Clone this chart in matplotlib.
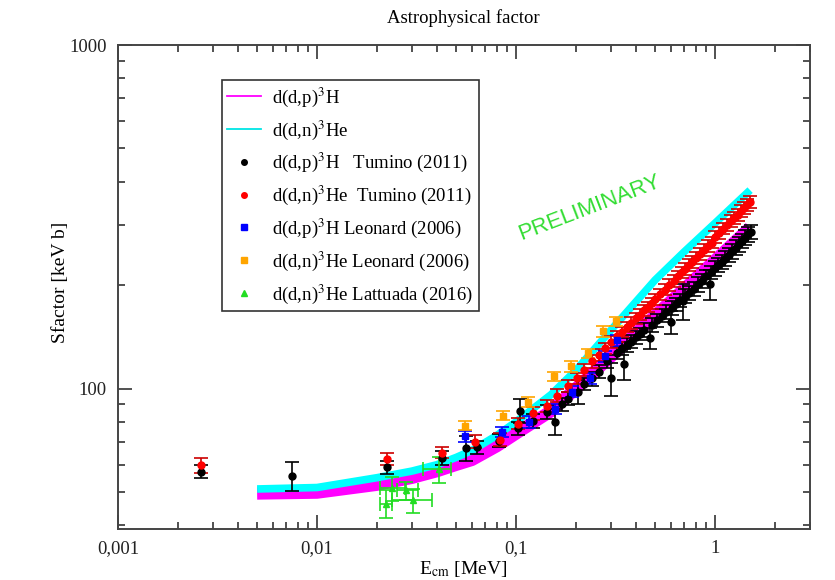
import numpy as np
import matplotlib
matplotlib.use("Agg")
import matplotlib.pyplot as plt
from matplotlib.lines import Line2D
from matplotlib.ticker import FixedLocator, FixedFormatter, LogLocator, NullFormatter

plt.rcParams['font.family'] = ['Liberation Serif', 'DejaVu Serif']
plt.rcParams['mathtext.fontset'] = 'stix'

# theory curves (S factor, keV b)
E_th = [0.005, 0.01, 0.02, 0.03, 0.04, 0.05, 0.06, 0.08, 0.1, 0.15, 0.2, 0.3, 0.5, 0.7, 1.0, 1.5]
S_dp_th = [49.5, 49.8, 52.5, 55.0, 57.5, 60.0, 62.0, 68.0, 74.0, 86.0, 100.0, 124.0, 163.0, 195.0, 236.0, 294.0]
S_dn_th = [51.0, 51.5, 55.0, 57.5, 60.0, 63.0, 66.0, 73.0, 80.0, 96.0, 113.0, 148.0, 207.0, 250.0, 303.0, 378.0]

# d(d,p)3H Tumino (2011)
E_tp = [0.0026, 0.0075, 0.0225, 0.0425, 0.056, 0.064, 0.082, 0.102, 0.105, 0.121, 0.143, 0.157,
        0.170, 0.182, 0.205, 0.22, 0.24, 0.26, 0.285, 0.30, 0.32, 0.34, 0.35,
        0.36, 0.38, 0.40, 0.42, 0.44, 0.47, 0.48, 0.51, 0.54, 0.57, 0.60, 0.61, 0.64, 0.67, 0.69,
        0.71, 0.74, 0.78, 0.82, 0.86, 0.90, 0.94, 0.95, 1.00, 1.04, 1.08, 1.12, 1.17, 1.22,
        1.27, 1.32, 1.37, 1.42, 1.47, 1.52]
S_tp = [57.3, 55.8, 59.0, 62.9, 67.0, 67.5, 70.5, 76.5, 86.3, 80.5, 85.7, 80.0,
        90.0, 93.5, 98.0, 103.0, 107.0, 112.0, 120.0, 107.0, 127.0, 131.0, 118.0,
        134.0, 137.0, 141.0, 144.0, 148.0, 140.0, 153.0, 158.0, 163.0, 167.0, 156.0, 172.0, 176.0, 181.0, 180.0,
        186.0, 190.0, 195.0, 201.0, 206.0, 212.0, 201.0, 218.0, 224.0, 229.0, 234.0, 239.0, 245.0, 251.0,
        257.0, 263.0, 269.0, 275.0, 281.0, 286.0]
err_tp = [2.5, 5.5, 2.5, 3.0, 5.5, 3.0, 3.0, 3.5, 7.0, 4.0, 4.0, 7.0,
          4.0, 4.0, 8.0, 4.0, 5.0, 5.0, 5.0, 12.0, 5.0, 6.0, 12.0,
          6.0, 6.0, 6.0, 6.0, 7.0, 10.0, 7.0, 7.0, 7.0, 8.0, 12.0, 8.0, 8.0, 8.0, 22.0,
          9.0, 9.0, 9.0, 10.0, 10.0, 10.0, 20.0, 10.0, 11.0, 11.0, 11.0, 12.0, 12.0, 12.0,
          13.0, 13.0, 13.0, 14.0, 14.0, 14.0]

# d(d,n)3He Tumino (2011)
E_tn = [0.0026, 0.0225, 0.0425, 0.062, 0.083, 0.102, 0.121, 0.143, 0.161, 0.182, 0.203, 0.22,
        0.24, 0.26, 0.28, 0.30, 0.32, 0.34, 0.36, 0.38, 0.40, 0.42, 0.44, 0.46, 0.48, 0.50,
        0.53, 0.56, 0.59, 0.62, 0.65, 0.68, 0.71, 0.74, 0.77, 0.80, 0.84, 0.88, 0.92, 0.96,
        1.00, 1.05, 1.10, 1.15, 1.20, 1.25, 1.30, 1.35, 1.40, 1.45, 1.50]
S_tn = [59.7, 62.5, 65.1, 70.0, 71.0, 79.0, 84.6, 89.2, 95.4, 101.8, 107.0, 113.0,
        120.0, 125.0, 131.0, 137.0, 142.0, 146.0, 151.0, 155.0, 160.0, 164.0, 169.0, 173.0, 177.0, 182.0,
        188.0, 194.0, 200.0, 206.0, 212.0, 218.0, 223.0, 229.0, 234.0, 240.0, 247.0, 253.0, 260.0, 266.0,
        276.0, 284.0, 292.0, 299.0, 307.0, 314.0, 321.0, 329.0, 336.0, 343.0, 350.0]
err_tn = [3.0, 2.5, 2.5, 3.0, 3.0, 3.0, 3.5, 3.5, 4.0, 4.0, 4.0, 4.5,
          5.0, 5.0, 5.0, 5.5, 5.5, 5.0, 5.0, 6.0, 6.0, 6.0, 6.0, 6.0, 7.0, 7.0,
          7.0, 7.0, 8.0, 8.0, 8.0, 8.0, 9.0, 9.0, 9.0, 9.0, 10.0, 10.0, 10.0, 10.0,
          11.0, 11.0, 11.0, 12.0, 12.0, 12.0, 13.0, 13.0, 13.0, 14.0, 14.0]

# Leonard (2006)
E_lp = [0.0555, 0.085, 0.116, 0.157, 0.19, 0.235, 0.28, 0.322]
S_lp = [72.5, 74.9, 80.0, 87.4, 98.0, 107.0, 124.0, 138.0]
err_lp = [2.5, 2.5, 3.0, 3.0, 3.5, 4.0, 4.5, 5.0]
E_ln = [0.0555, 0.086, 0.115, 0.155, 0.189, 0.23, 0.272, 0.318]
S_ln = [78.0, 83.4, 91.6, 108.4, 116.0, 126.5, 146.6, 157.0]
err_ln = [2.5, 2.5, 3.0, 3.5, 4.0, 4.0, 5.0, 5.0]

# Lattuada (2016)
E_la = [0.0221, 0.0237, 0.0279, 0.0304, 0.041]
E_la_lo = [0.0207, 0.0207, 0.0253, 0.0238, 0.034]
E_la_hi = [0.0237, 0.0277, 0.0322, 0.038, 0.047]
S_la = [46.2, 51.2, 50.5, 47.3, 58.2]
err_la = [4.3, 4.0, 3.0, 3.8, 5.0]

fig = plt.figure(figsize=(8.35, 5.8), dpi=100)
ax = fig.add_axes([118/835, 51/580, 692/835, 484/580])

ax.plot(E_th, S_dp_th, color='#ff00ff', lw=9, solid_capstyle='butt', zorder=2)
ax.plot(E_th, S_dn_th, color='#00ffff', lw=5.5, solid_capstyle='butt', zorder=3)

ekw = dict(ls='none', capsize=5, elinewidth=1.2, capthick=1.2, zorder=5)
ax.errorbar(E_tp, S_tp, yerr=err_tp, fmt='o', ms=5, color='black', **ekw)
ax.errorbar(E_tn, S_tn, yerr=err_tn, fmt='o', ms=5, color='#ff0000', ecolor='#cc0000', **ekw)
ax.errorbar(E_lp, S_lp, yerr=err_lp, fmt='s', ms=5, color='#0000ff', **ekw)
ax.errorbar(E_ln, S_ln, yerr=err_ln, fmt='s', ms=5, color='#ffa500', **ekw)
xlo = np.array(E_la) - np.array(E_la_lo)
xhi = np.array(E_la_hi) - np.array(E_la)
ax.errorbar(E_la, S_la, xerr=[xlo, xhi], yerr=err_la, fmt='^', ms=5, color='#22dd22', **ekw)

ax.set_xscale('log')
ax.set_yscale('log')
ax.set_xlim(0.001, 3.0)
ax.set_ylim(39, 1000)

ax.xaxis.set_major_locator(FixedLocator([0.001, 0.01, 0.1, 1]))
ax.xaxis.set_major_formatter(FixedFormatter(['0,001', '0,01', '0,1', '1']))
ax.xaxis.set_minor_locator(LogLocator(base=10, subs=np.arange(2, 10)))
ax.xaxis.set_minor_formatter(NullFormatter())
ax.yaxis.set_major_locator(FixedLocator([100, 1000]))
ax.yaxis.set_major_formatter(FixedFormatter(['100', '1000']))
ax.yaxis.set_minor_locator(LogLocator(base=10, subs=np.arange(2, 10)))
ax.yaxis.set_minor_formatter(NullFormatter())
ax.tick_params(which='both', direction='in', top=True, right=True, labelsize=13.5, colors='#333333',
               labelcolor='#222222')
ax.tick_params(which='major', length=10, width=1.2, pad=8)
ax.tick_params(which='minor', length=5, width=1.2)
for s in ax.spines.values():
    s.set_linewidth(1.4)
    s.set_color('#444444')

fig.text(463/835, 1 - 18/580, 'Astrophysical factor', ha='center', va='center', fontsize=13.5)
fig.text(60/835, 1 - 282/580, 'Sfactor [keV b]', ha='center', va='center', rotation=90, fontsize=14)
fig.text(463/835, 1 - 569/580, r'E$_{\rm cm}$ [MeV]', ha='center', va='center', fontsize=14)

fig.text(590/835, 1 - 208/580, 'PRELIMINARY', fontsize=16, color='#33dd33', rotation=21,
         ha='center', va='center', family=['Liberation Sans', 'DejaVu Sans'])

handles = [
    Line2D([], [], color='#ff00ff', lw=1.3),
    Line2D([], [], color='#00e5e5', lw=1.3),
    Line2D([], [], color='black', marker='o', ls='none', ms=4),
    Line2D([], [], color='#ff0000', marker='o', ls='none', ms=4),
    Line2D([], [], color='#0000ff', marker='s', ls='none', ms=4),
    Line2D([], [], color='#ffa500', marker='s', ls='none', ms=4),
    Line2D([], [], color='#22dd22', marker='^', ls='none', ms=4),
]
labels = [
    r'd(d,p)$^3$H',
    r'd(d,n)$^3$He',
    r'd(d,p)$^3$H   Tumino (2011)',
    r'd(d,n)$^3$He  Tumino (2011)',
    r'd(d,p)$^3$H Leonard (2006)',
    r'd(d,n)$^3$He Leonard (2006)',
    r'd(d,n)$^3$He Lattuada (2016)',
]
leg = ax.legend(handles, labels, loc='upper left', bbox_to_anchor=(0.150, 0.928), fontsize=13.5,
                frameon=True, fancybox=False, edgecolor='#333333', framealpha=1, borderaxespad=0,
                handlelength=1.8, handletextpad=0.6, labelspacing=0.5, borderpad=0.3)
leg.get_frame().set_linewidth(1.2)

fig.savefig('out.png', dpi=100)
